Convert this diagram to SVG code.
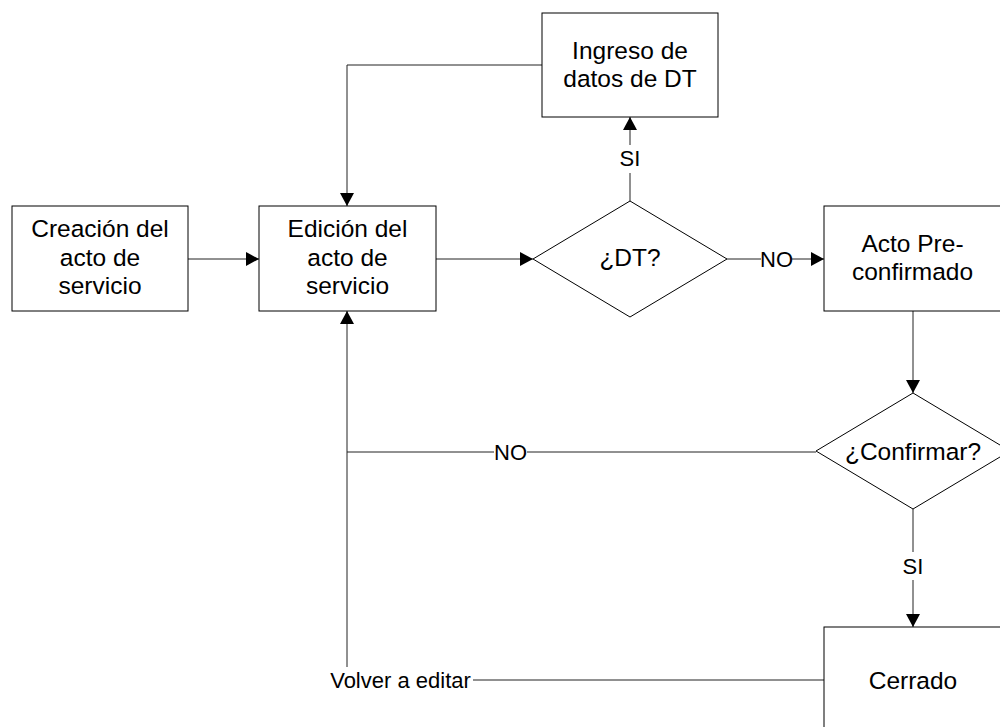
<svg xmlns="http://www.w3.org/2000/svg" width="1000" height="727" viewBox="0 0 1000 727">
<style>
.box{fill:#fff;stroke:#000;stroke-width:1}
.t{font-family:"Liberation Sans",Arial,sans-serif;font-size:24.5px;fill:#000;text-anchor:middle}
.l{font-family:"Liberation Sans",Arial,sans-serif;font-size:22px;fill:#000;text-anchor:middle}
.c{fill:none;stroke:#222;stroke-width:1}
</style>
<defs>
<marker id="arr" markerUnits="userSpaceOnUse" markerWidth="14" markerHeight="14" refX="13" refY="7" orient="auto">
<path d="M0,0 L13,7 L0,14 Z" fill="#000"/>
</marker>
</defs>
<rect width="1000" height="727" fill="#fff"/>
<g id="connectors">
<polyline class="c" points="542,65 347,65 347,206" marker-end="url(#arr)"/>
<line class="c" x1="188" y1="259" x2="259" y2="259" marker-end="url(#arr)"/>
<line class="c" x1="436" y1="259" x2="533" y2="259" marker-end="url(#arr)"/>
<line class="c" x1="630" y1="201" x2="630" y2="173"/>
<line class="c" x1="630" y1="145" x2="630" y2="117" marker-end="url(#arr)"/>
<text class="l" x="630" y="166">SI</text>
<line class="c" x1="727" y1="259" x2="761" y2="259"/>
<line class="c" x1="792" y1="259" x2="824" y2="259" marker-end="url(#arr)"/>
<text class="l" x="776.5" y="267">NO</text>
<line class="c" x1="913" y1="311" x2="913" y2="393" marker-end="url(#arr)"/>
<line class="c" x1="816" y1="452" x2="527" y2="452"/>
<line class="c" x1="494" y1="452" x2="347" y2="452"/>
<text class="l" x="510.5" y="459.5">NO</text>
<line class="c" x1="913" y1="509" x2="913" y2="552"/>
<line class="c" x1="913" y1="580" x2="913" y2="627" marker-end="url(#arr)"/>
<text class="l" x="913" y="573.5">SI</text>
<line class="c" x1="824" y1="680" x2="473" y2="680"/>
<line class="c" x1="347" y1="667" x2="347" y2="311" marker-end="url(#arr)"/>
<text class="l" x="400.5" y="687.5">Volver a editar</text>
</g>
<g id="ingreso">
<rect class="box" x="542" y="13" width="176" height="104"/>
<text class="t" x="630" y="58.5">Ingreso de</text>
<text class="t" x="630" y="87">datos de DT</text>
</g>
<g id="creacion">
<rect class="box" x="12" y="206" width="176" height="105"/>
<text class="t" x="100" y="237">Creación del</text>
<text class="t" x="100" y="265.5">acto de</text>
<text class="t" x="100" y="294">servicio</text>
</g>
<g id="edicion">
<rect class="box" x="259" y="206" width="177" height="105"/>
<text class="t" x="347.5" y="237">Edición del</text>
<text class="t" x="347.5" y="265.5">acto de</text>
<text class="t" x="347.5" y="294">servicio</text>
</g>
<g id="dt">
<polygon class="box" points="630,201 727,259 630,317 533,259"/>
<text class="t" x="630" y="266">¿DT?</text>
</g>
<g id="acto">
<rect class="box" x="824" y="206" width="178" height="105"/>
<text class="t" x="912.5" y="251.5">Acto Pre-</text>
<text class="t" x="912.5" y="280">confirmado</text>
</g>
<g id="confirmar">
<polygon class="box" points="913,393 1010,451 913,509 816,451"/>
<text class="t" x="913" y="460">¿Confirmar?</text>
</g>
<g id="cerrado">
<rect class="box" x="824" y="627" width="178" height="106"/>
<text class="t" x="913" y="688.5">Cerrado</text>
</g>
</svg>
